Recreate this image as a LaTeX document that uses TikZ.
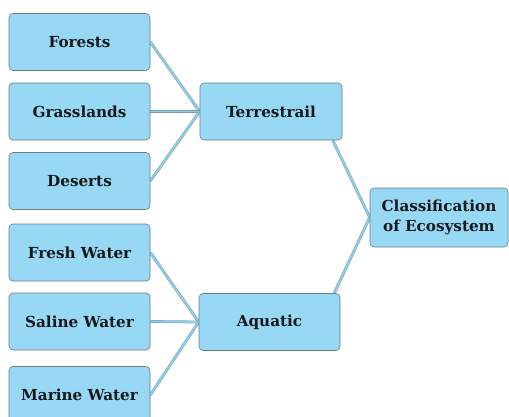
\documentclass[tikz,border=0pt]{standalone}
\usepackage{fontspec}
\setmainfont{DejaVu Serif}
\usetikzlibrary{backgrounds}
\definecolor{boxfill}{HTML}{97D8F5}
\definecolor{boxline}{HTML}{6E7C84}
\definecolor{connin}{HTML}{8DD0EE}
\definecolor{connout}{HTML}{7C9AA8}
\begin{document}
\begin{tikzpicture}[x=1pt,y=-1pt,
  box/.style={draw=boxline, line width=0.6pt, fill=boxfill, rounded corners=4pt,
    minimum width=141pt, minimum height=57pt, inner sep=0pt, align=center,
    font=\fontsize{15.2}{19.5}\selectfont\bfseries, text=black!90},
  conn/.style={draw=connout, line width=0.5pt, double=connin, double distance=1.8pt}]
\useasboundingbox (0,0) rectangle (509,416);
\node[box] (forests) at (79.5,42) {Forests};
\node[box] (grass) at (79.5,111.5) {Grasslands};
\node[box] (deserts) at (79.5,181) {Deserts};
\node[box] (fresh) at (79.5,252.5) {Fresh Water};
\node[box] (saline) at (79.5,321.5) {Saline Water};
\node[box] (marine) at (79.5,395) {Marine Water};
\node[box, minimum width=142pt] (terr) at (271,111.5) {Terrestrail};
\node[box] (aq) at (269.5,322) {Aquatic};
\node[box, minimum width=138pt, minimum height=59pt] (cls) at (439,217.5) {Classification\\of Ecosystem};
\begin{scope}[on background layer]
\draw[conn] (forests.east) -- (terr.west);
\draw[conn] (grass.east) -- (terr.west);
\draw[conn] (deserts.east) -- (terr.west);
\draw[conn] (fresh.east) -- (aq.west);
\draw[conn] (saline.east) -- (aq.west);
\draw[conn] (marine.east) -- (aq.west);
\draw[conn] (terr.-25) -- (cls.west);
\draw[conn] (aq.24) -- (cls.west);
\end{scope}
\end{tikzpicture}
\end{document}
